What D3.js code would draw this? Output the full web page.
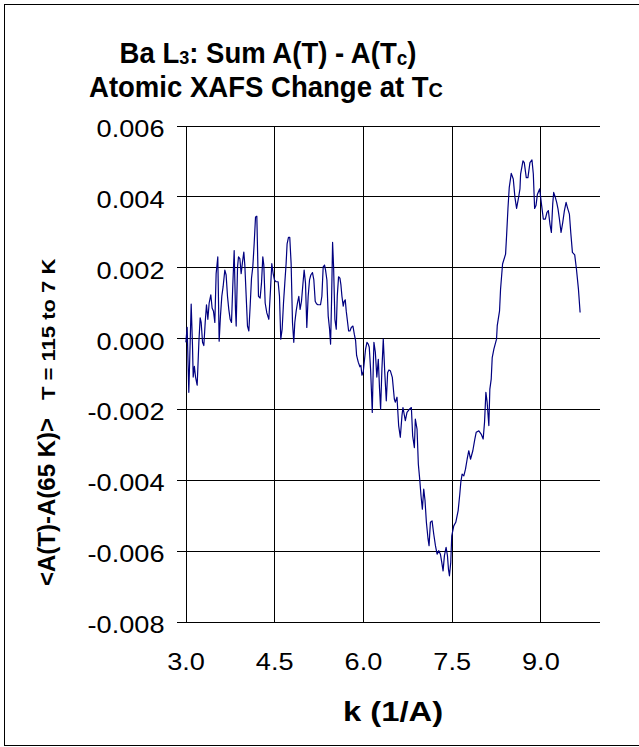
<!DOCTYPE html>
<html>
<head>
<meta charset="utf-8">
<script src="https://cdn.jsdelivr.net/npm/d3@7"></script>
<style>
  html, body { margin: 0; padding: 0; background: #fff; }
  svg { display: block; }
  text { font-family: "Liberation Sans", Arial, Helvetica, sans-serif; fill: #000; }
</style>
</head>
<body>
<svg id="chart" width="639" height="747"></svg>
<script>
// Photoelectron wavenumber k (1/A)
const kValues = [
  3.006, 3.028, 3.045, 3.056, 3.073, 3.096, 3.118, 3.130, 3.150, 3.170,
  3.197, 3.210, 3.226, 3.248, 3.265, 3.288, 3.310, 3.333, 3.355, 3.378,
  3.400, 3.428, 3.450, 3.473, 3.496, 3.518, 3.546, 3.569, 3.591, 3.614,
  3.636, 3.665, 3.687, 3.710, 3.732, 3.755, 3.778, 3.800, 3.823, 3.845,
  3.857, 3.880, 3.896, 3.919, 3.941, 3.964, 3.986, 4.003, 4.026, 4.048,
  4.071, 4.093, 4.116, 4.138, 4.161, 4.184, 4.206, 4.223, 4.234, 4.262,
  4.285, 4.307, 4.324, 4.347, 4.375, 4.409, 4.437, 4.459, 4.482, 4.504,
  4.527, 4.566, 4.589, 4.611, 4.634, 4.657, 4.679, 4.701, 4.718, 4.741,
  4.763, 4.786, 4.809, 4.831, 4.848, 4.871, 4.893, 4.916, 4.938, 4.961,
  4.984, 5.006, 5.029, 5.051, 5.074, 5.097, 5.119, 5.147, 5.170, 5.193,
  5.215, 5.238, 5.260, 5.283, 5.306, 5.328, 5.351, 5.368, 5.391, 5.413,
  5.436, 5.453, 5.470, 5.487, 5.504, 5.526, 5.549, 5.566, 5.588, 5.611,
  5.628, 5.645, 5.667, 5.684, 5.701, 5.718, 5.741, 5.758, 5.780, 5.803,
  5.831, 5.854, 5.876, 5.893, 5.921, 5.949, 5.966, 5.983, 6.006, 6.045,
  6.068, 6.090, 6.107, 6.130, 6.158, 6.175, 6.186, 6.210, 6.235, 6.260,
  6.280, 6.299, 6.321, 6.344, 6.370, 6.395, 6.418, 6.440, 6.463, 6.497,
  6.531, 6.547, 6.576, 6.604, 6.632, 6.660, 6.677, 6.717, 6.745, 6.790,
  6.819, 6.841, 6.870, 6.886, 6.915, 6.937, 6.960, 6.982, 7.005, 7.028,
  7.050, 7.073, 7.101, 7.118, 7.141, 7.169, 7.197, 7.226, 7.254, 7.282,
  7.310, 7.333, 7.355, 7.378, 7.406, 7.429, 7.446, 7.463, 7.485, 7.502,
  7.536, 7.570, 7.610, 7.638, 7.655, 7.677, 7.706, 7.734, 7.762, 7.790,
  7.819, 7.858, 7.892, 7.915, 7.960, 7.999, 8.033, 8.056, 8.079, 8.100,
  8.129, 8.146, 8.169, 8.186, 8.214, 8.259, 8.271, 8.310, 8.327, 8.361,
  8.412, 8.429, 8.452, 8.474, 8.508, 8.542, 8.570, 8.598, 8.632, 8.655,
  8.666, 8.706, 8.728, 8.762, 8.790, 8.824, 8.858, 8.881, 8.903, 8.926,
  8.949, 8.988, 9.022, 9.050, 9.084, 9.112, 9.135, 9.163, 9.186, 9.209,
  9.225, 9.248, 9.276, 9.299, 9.322, 9.350, 9.378, 9.406, 9.435, 9.457,
  9.491, 9.514, 9.542, 9.581, 9.610, 9.644, 9.672
];

// <A(T) - A(65 K)>, averaged over T = 115 to 7 K
const deltaA = [
  -0.00012, 0.00030, -0.00080, -0.00153, -0.00050, 0.00096, -0.00020, -0.00110, -0.00080, -0.00110,
  -0.00133, -0.00080, -0.00012, 0.00057, 0.00044, -0.00012, -0.00021, 0.00044, 0.00094, 0.00053,
  0.00099, 0.00122, 0.00085, 0.00076, 0.00044, 0.00182, 0.00229, -0.00009, 0.00062, 0.00118,
  0.00145, 0.00192, 0.00178, 0.00118, 0.00081, 0.00053, 0.00044, 0.00150, 0.00247, 0.00081,
  0.00034, 0.00201, 0.00229, 0.00224, 0.00182, 0.00215, 0.00243, 0.00206, 0.00118, 0.00034,
  0.00020, 0.00090, 0.00169, 0.00201, 0.00266, 0.00342, 0.00344, 0.00210, 0.00118, 0.00113,
  0.00155, 0.00229, 0.00206, 0.00099, 0.00071, 0.00053, 0.00136, 0.00210, 0.00182, 0.00164,
  0.00159, 0.00159, 0.00118, -0.00003, 0.00025, 0.00099, 0.00155, 0.00210, 0.00266, 0.00284,
  0.00284, 0.00210, 0.00044, -0.00012, 0.00044, 0.00076, 0.00099, 0.00118, 0.00081, 0.00104,
  0.00150, 0.00192, 0.00155, 0.00030, 0.00118, 0.00164, 0.00178, 0.00185, 0.00164, 0.00104,
  0.00097, 0.00094, 0.00094, 0.00094, 0.00118, 0.00201, 0.00206, 0.00192, 0.00164, 0.00062,
  0.00025, -0.00017, 0.00108, 0.00270, 0.00201, 0.00053, 0.00025, 0.00118, 0.00173, 0.00169,
  0.00150, 0.00118, 0.00090, 0.00104, 0.00108, 0.00076, 0.00044, 0.00020, 0.00020, 0.00030,
  0.00034, 0.00011, -0.00007, -0.00049, -0.00068, -0.00081, -0.00077, -0.00105, -0.00095, -0.00031,
  -0.00012, -0.00017, -0.00026, -0.00090, -0.00210, -0.00080, -0.00012, -0.00040, -0.00110, -0.00060,
  -0.00140, -0.00201, -0.00087, -0.00003, -0.00100, -0.00177, -0.00097, -0.00090, -0.00092, -0.00111,
  -0.00172, -0.00181, -0.00167, -0.00247, -0.00280, -0.00219, -0.00196, -0.00233, -0.00210, -0.00200,
  -0.00196, -0.00276, -0.00309, -0.00229, -0.00257, -0.00356, -0.00398, -0.00445, -0.00483, -0.00426,
  -0.00459, -0.00520, -0.00567, -0.00586, -0.00520, -0.00516, -0.00553, -0.00586, -0.00610, -0.00600,
  -0.00610, -0.00633, -0.00657, -0.00614, -0.00591, -0.00614, -0.00652, -0.00671, -0.00633, -0.00558,
  -0.00530, -0.00520, -0.00487, -0.00440, -0.00407, -0.00384, -0.00389, -0.00370, -0.00342, -0.00318,
  -0.00342, -0.00318, -0.00285, -0.00266, -0.00262, -0.00271, -0.00285, -0.00238, -0.00153, -0.00181,
  -0.00247, -0.00144, -0.00116, -0.00055, -0.00031, -0.00003, 0.00035, 0.00077, 0.00138, 0.00209,
  0.00237, 0.00289, 0.00365, 0.00425, 0.00465, 0.00449, 0.00397, 0.00366, 0.00397, 0.00421,
  0.00463, 0.00500, 0.00495, 0.00453, 0.00453, 0.00495, 0.00503, 0.00463, 0.00366, 0.00374,
  0.00405, 0.00421, 0.00374, 0.00336, 0.00336, 0.00355, 0.00360, 0.00321, 0.00298, 0.00378,
  0.00411, 0.00400, 0.00383, 0.00364, 0.00336, 0.00298, 0.00326, 0.00359, 0.00383, 0.00369,
  0.00350, 0.00298, 0.00242, 0.00235, 0.00195, 0.00138, 0.00072
];

const xTicks = [3.0, 4.5, 6.0, 7.5, 9.0];
const xTickLabels = ["3.0", "4.5", "6.0", "7.5", "9.0"];
const yTicks = [0.006, 0.004, 0.002, 0.000, -0.002, -0.004, -0.006, -0.008];
const yTickLabels = ["0.006", "0.004", "0.002", "0.000", "-0.002", "-0.004", "-0.006", "-0.008"];

const points = kValues.map((k, i) => ({ k, v: deltaA[i] }));

const plot = { left: 185.5, right: 599.5, top: 125.5, bottom: 621.5 };
const fontStack = "Liberation Sans, Arial, Helvetica, sans-serif";

const x = d3.scaleLinear().domain([3, 10]).range([plot.left, plot.right]);
const y = d3.scaleLinear().domain([-0.008, 0.006]).range([plot.bottom, plot.top]);

const svg = d3.select("#chart");

svg.append("rect")
  .attr("x", 0).attr("y", 0).attr("width", 639).attr("height", 747)
  .attr("fill", "#fff");

// outer chart frame
svg.append("rect")
  .attr("x", 4.5).attr("y", 4.5).attr("width", 640).attr("height", 741)
  .attr("fill", "none").attr("stroke", "#000").attr("stroke-width", 1);

// horizontal gridlines
const yGrid = svg.append("g")
  .attr("transform", `translate(${plot.left},0)`)
  .call(d3.axisLeft(y).tickValues(yTicks).tickSize(-(plot.right - plot.left)).tickFormat(""));
yGrid.select(".domain").remove();
yGrid.selectAll("line").attr("stroke", "#000").attr("shape-rendering", "crispEdges");

// vertical gridlines
const xGrid = svg.append("g")
  .attr("transform", `translate(0,${plot.bottom})`)
  .call(d3.axisBottom(x).tickValues(xTicks).tickSize(-(plot.bottom - plot.top)).tickFormat(""));
xGrid.select(".domain").remove();
xGrid.selectAll("line").attr("stroke", "#000").attr("shape-rendering", "crispEdges");

// y axis: outward ticks and labels
const yAxis = svg.append("g")
  .attr("transform", `translate(${plot.left},0)`)
  .call(d3.axisLeft(y).tickValues(yTicks).tickSize(9)
    .tickFormat((d, i) => yTickLabels[i]));
yAxis.attr("font-size", 23).attr("font-family", fontStack);
yAxis.select(".domain").remove();
yAxis.selectAll("line").attr("stroke", "#000").attr("shape-rendering", "crispEdges");
yAxis.selectAll("text")
  .attr("x", null).attr("dy", null)
  .attr("text-anchor", "end")
  .attr("fill", "#000")
  .attr("transform", "translate(-21,11) scale(1.18,1)");

// x axis labels
const xAxis = svg.append("g")
  .attr("transform", `translate(0,${plot.bottom})`)
  .call(d3.axisBottom(x).tickValues(xTicks).tickSize(0)
    .tickFormat((d, i) => xTickLabels[i]));
xAxis.attr("font-size", 23).attr("font-family", fontStack);
xAxis.select(".domain").remove();
xAxis.selectAll("line").remove();
xAxis.selectAll("text")
  .attr("y", null).attr("dy", null)
  .attr("text-anchor", "middle")
  .attr("fill", "#000")
  .attr("transform", "translate(0,48.5) scale(1.18,1)");

// data trace
const line = d3.line().x(d => x(d.k)).y(d => y(d.v));
svg.append("path")
  .datum(points)
  .attr("d", line)
  .attr("fill", "none")
  .attr("stroke", "#000080")
  .attr("stroke-width", 1.2)
  .attr("stroke-linejoin", "round");

// title, two lines
const t1 = svg.append("text")
  .attr("transform", "translate(268,63.3) scale(0.95,1)")
  .attr("text-anchor", "middle")
  .attr("font-size", 29).attr("font-weight", "bold");
t1.append("tspan").text("Ba L");
t1.append("tspan").attr("font-size", 19).attr("dy", 1).text("3");
t1.append("tspan").attr("dy", -1).text(": Sum A(T) - A(T");
t1.append("tspan").attr("font-size", 20).attr("dy", 2).text("c");
t1.append("tspan").attr("dy", -2).text(")");

const t2 = svg.append("text")
  .attr("transform", "translate(266,96.7) scale(0.95,1)")
  .attr("text-anchor", "middle")
  .attr("font-size", 29).attr("font-weight", "bold");
t2.append("tspan").text("Atomic XAFS Change at T");
t2.append("tspan").attr("font-size", 21).text("C");

// x axis title
svg.append("text")
  .attr("transform", "translate(393,720.5) scale(1.17,1)")
  .attr("text-anchor", "middle")
  .attr("font-size", 28).attr("font-weight", "bold")
  .text("k (1/A)");

// y axis title, in two sizes
svg.append("text")
  .attr("transform", "translate(55,586) rotate(-90)")
  .attr("text-anchor", "start")
  .attr("font-size", 24).attr("font-weight", "bold")
  .text("<A(T)-A(65 K)>");
svg.append("text")
  .attr("transform", "translate(55,400) rotate(-90) scale(1.19,1)")
  .attr("text-anchor", "start")
  .attr("font-size", 18.5).attr("font-weight", "bold")
  .text("T = 115 to 7 K");
</script>
</body>
</html>
